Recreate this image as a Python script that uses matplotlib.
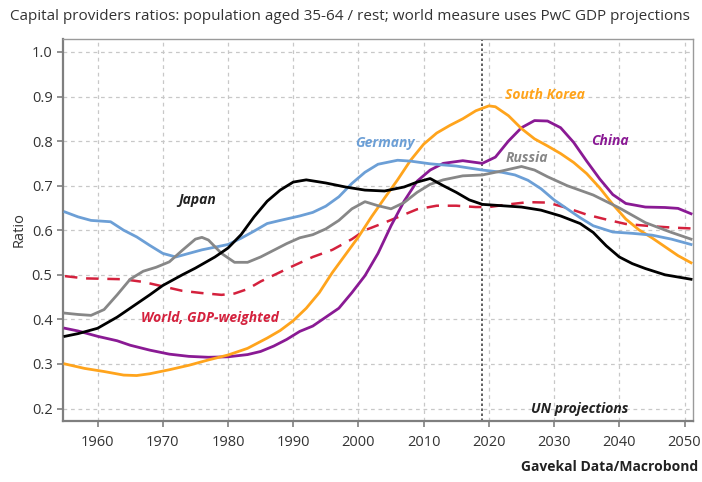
import matplotlib
matplotlib.use("Agg")
import matplotlib.pyplot as plt
from matplotlib import font_manager

# ---------------- data ----------------
japan_years = [1955, 1957, 1960, 1963, 1965, 1968, 1970, 1973, 1975, 1978, 1980, 1982, 1984, 1986, 1988,
               1990, 1992, 1995, 1998, 2001, 2004, 2007, 2009, 2011, 2013, 2015, 2017, 2019, 2022, 2025,
               2028, 2031, 2034, 2036, 2038, 2040, 2042, 2044, 2047, 2051]
japan_vals = [0.362, 0.368, 0.38, 0.405, 0.425, 0.455, 0.476, 0.50, 0.515, 0.54, 0.56, 0.59, 0.63, 0.665, 0.69,
              0.708, 0.713, 0.706, 0.697, 0.69, 0.688, 0.697, 0.708, 0.716, 0.70, 0.685, 0.668, 0.658, 0.655, 0.652,
              0.645, 0.632, 0.615, 0.595, 0.565, 0.54, 0.525, 0.514, 0.50, 0.49]

germany_years = [1955, 1957, 1959, 1962, 1964, 1966, 1968, 1970, 1972, 1974, 1976, 1978, 1980, 1982, 1984,
                 1986, 1988, 1991, 1993, 1995, 1997, 1999, 2001, 2003, 2006, 2008, 2011, 2015, 2019, 2022,
                 2024, 2026, 2028, 2030, 2032, 2034, 2036, 2039, 2042, 2045, 2048, 2051]
germany_vals = [0.641, 0.63, 0.622, 0.619, 0.60, 0.585, 0.566, 0.548, 0.540, 0.548, 0.556, 0.562, 0.568, 0.582, 0.598,
                0.615, 0.622, 0.632, 0.64, 0.654, 0.675, 0.705, 0.73, 0.748, 0.757, 0.755, 0.749, 0.744, 0.735, 0.73,
                0.724, 0.712, 0.693, 0.668, 0.648, 0.628, 0.61, 0.596, 0.593, 0.589, 0.58, 0.568]

russia_years = [1955, 1957, 1959, 1961, 1963, 1965, 1967, 1969, 1971, 1973, 1975, 1976, 1977, 1979, 1981,
                1983, 1985, 1987, 1989, 1991, 1993, 1995, 1997, 1999, 2001, 2003, 2005, 2007, 2009, 2011,
                2013, 2016, 2019, 2022, 2025, 2027, 2029, 2032, 2036, 2040, 2044, 2048, 2051]
russia_vals = [0.414, 0.411, 0.409, 0.422, 0.455, 0.49, 0.508, 0.517, 0.529, 0.555, 0.58, 0.584, 0.578, 0.548, 0.528,
               0.528, 0.54, 0.555, 0.57, 0.583, 0.59, 0.603, 0.622, 0.648, 0.664, 0.655, 0.648, 0.662, 0.685, 0.703,
               0.713, 0.722, 0.724, 0.733, 0.743, 0.735, 0.72, 0.70, 0.679, 0.65, 0.617, 0.595, 0.58]

world_years = [1955, 1958, 1961, 1964, 1967, 1970, 1973, 1976, 1979, 1981, 1983, 1985, 1987, 1990, 1993,
               1996, 1999, 2001, 2004, 2007, 2009, 2012, 2015, 2018, 2020, 2023, 2026, 2029, 2032, 2035,
               2038, 2041, 2045, 2048, 2051]
world_vals = [0.497, 0.492, 0.491, 0.49, 0.484, 0.474, 0.464, 0.459, 0.455, 0.458, 0.468, 0.485, 0.499, 0.52, 0.54,
              0.556, 0.58, 0.60, 0.617, 0.635, 0.647, 0.655, 0.655, 0.652, 0.652, 0.658, 0.663, 0.662, 0.65, 0.635,
              0.624, 0.614, 0.609, 0.606, 0.604]

korea_years = [1955, 1958, 1961, 1964, 1966, 1968, 1971, 1974, 1977, 1980, 1983, 1986, 1988, 1990, 1992,
               1994, 1996, 1998, 2000, 2002, 2004, 2006, 2008, 2010, 2012, 2014, 2016, 2018, 2020, 2021,
               2023, 2025, 2027, 2029, 2031, 2033, 2035, 2037, 2039, 2041, 2043, 2045, 2047, 2049, 2051]
korea_vals = [0.30, 0.29, 0.283, 0.275, 0.274, 0.278, 0.287, 0.297, 0.309, 0.32, 0.335, 0.358, 0.375, 0.397, 0.425,
              0.46, 0.505, 0.545, 0.585, 0.63, 0.672, 0.713, 0.757, 0.793, 0.818, 0.835, 0.85, 0.868, 0.879, 0.877,
              0.857, 0.828, 0.805, 0.789, 0.772, 0.752, 0.727, 0.695, 0.658, 0.625, 0.601, 0.583, 0.563, 0.543, 0.527]

china_years = [1955, 1957, 1960, 1963, 1965, 1968, 1971, 1974, 1977, 1980, 1983, 1985, 1987, 1989, 1991,
               1993, 1995, 1997, 1999, 2001, 2003, 2005, 2007, 2009, 2011, 2013, 2016, 2019, 2021, 2023,
               2025, 2027, 2029, 2031, 2033, 2035, 2037, 2039, 2041, 2044, 2047, 2049, 2051]
china_vals = [0.38, 0.374, 0.362, 0.352, 0.342, 0.331, 0.322, 0.317, 0.315, 0.316, 0.321, 0.328, 0.34, 0.355, 0.373,
              0.385, 0.405, 0.425, 0.46, 0.498, 0.548, 0.61, 0.665, 0.71, 0.735, 0.75, 0.756, 0.75, 0.764, 0.80,
              0.83, 0.846, 0.845, 0.83, 0.797, 0.755, 0.715, 0.68, 0.66, 0.652, 0.651, 0.649, 0.637]

x_ticks = [1960, 1970, 1980, 1990, 2000, 2010, 2020, 2030, 2040, 2050]
y_ticks = [0.2, 0.3, 0.4, 0.5, 0.6, 0.7, 0.8, 0.9, 1.0]
projection_start = 2019

title_text = "Capital providers ratios: population aged 35-64 / rest; world measure uses PwC GDP projections"
source_text = "Gavekal Data/Macrobond"

# ---------------- style ----------------
avail = {f.name for f in font_manager.fontManager.ttflist}
fam = [f for f in ["Liberation Sans Narrow", "Open Sans", "DejaVu Sans"] if f in avail]
plt.rcParams['font.family'] = fam

C_BLUE = "#6c9fd6"
C_ORANGE = "#ffa41c"
C_PURPLE = "#8a1a94"
C_GREY = "#878787"
C_RED = "#d4213d"
C_BLACK = "#000000"
TXT = "#333333"

fig = plt.figure(figsize=(7.02, 4.82), dpi=100)
ax = fig.add_axes([63/702, 1-421/482, (693-63)/702, (421-39)/482])

lw = 2.0
ax.plot(world_years, world_vals, color=C_RED, lw=1.8, dashes=(5, 3.5), zorder=3)
ax.plot(china_years, china_vals, color=C_PURPLE, lw=lw, zorder=4)
ax.plot(korea_years, korea_vals, color=C_ORANGE, lw=lw, zorder=4)
ax.plot(germany_years, germany_vals, color=C_BLUE, lw=lw, zorder=4)
ax.plot(russia_years, russia_vals, color=C_GREY, lw=lw, zorder=4)
ax.plot(japan_years, japan_vals, color=C_BLACK, lw=lw, zorder=5)

ax.axvline(projection_start, color="#444444", lw=1.2, ls=(0, (1.5, 1.5)), zorder=2)

ax.set_xlim(1954.7, 2051.3)
ax.set_ylim(0.172, 1.029)
ax.set_xticks(x_ticks)
ax.set_yticks(y_ticks)
ax.set_yticklabels([f"{v:.1f}" for v in y_ticks])
ax.grid(True, color="#c8c8c8", ls=(0, (3, 3)), lw=0.9)
ax.set_axisbelow(True)

for s in ["left", "bottom"]:
    ax.spines[s].set_color("#7f7f7f")
    ax.spines[s].set_linewidth(1.6)
for s in ["top", "right"]:
    ax.spines[s].set_color("#9a9a9a")
    ax.spines[s].set_linewidth(1.0)
ax.tick_params(axis="both", colors="#7f7f7f", labelcolor=TXT, labelsize=10.5, length=4, width=1.2)
ax.tick_params(axis="x", pad=6)

ax.set_ylabel("Ratio", color=TXT, fontsize=10.5, labelpad=4)

lab = dict(fontsize=10, fontstyle="italic", fontweight="bold", ha="center", va="center")
ax.text(1975.3, 0.667, "Japan", color="#222222", **lab)
ax.text(2004.1, 0.796, "Germany", color=C_BLUE, **lab)
ax.text(2028.6, 0.903, "South Korea", color=C_ORANGE, **lab)
ax.text(2025.9, 0.762, "Russia", color=C_GREY, **lab)
ax.text(2038.6, 0.800, "China", color=C_PURPLE, **lab)
ax.text(1977.3, 0.404, "World, GDP-weighted", color=C_RED, **lab)
ax.text(2034.0, 0.200, "UN projections", color="#222222", **lab)

fig.text(10/702, 1-17/482, title_text, fontsize=11, color=TXT, ha="left", va="center")
fig.text(698/702, 1-467/482, source_text, fontsize=10, fontweight="bold", color="#222222",
         ha="right", va="center")

fig.savefig("out.png", dpi=100, facecolor="white")
